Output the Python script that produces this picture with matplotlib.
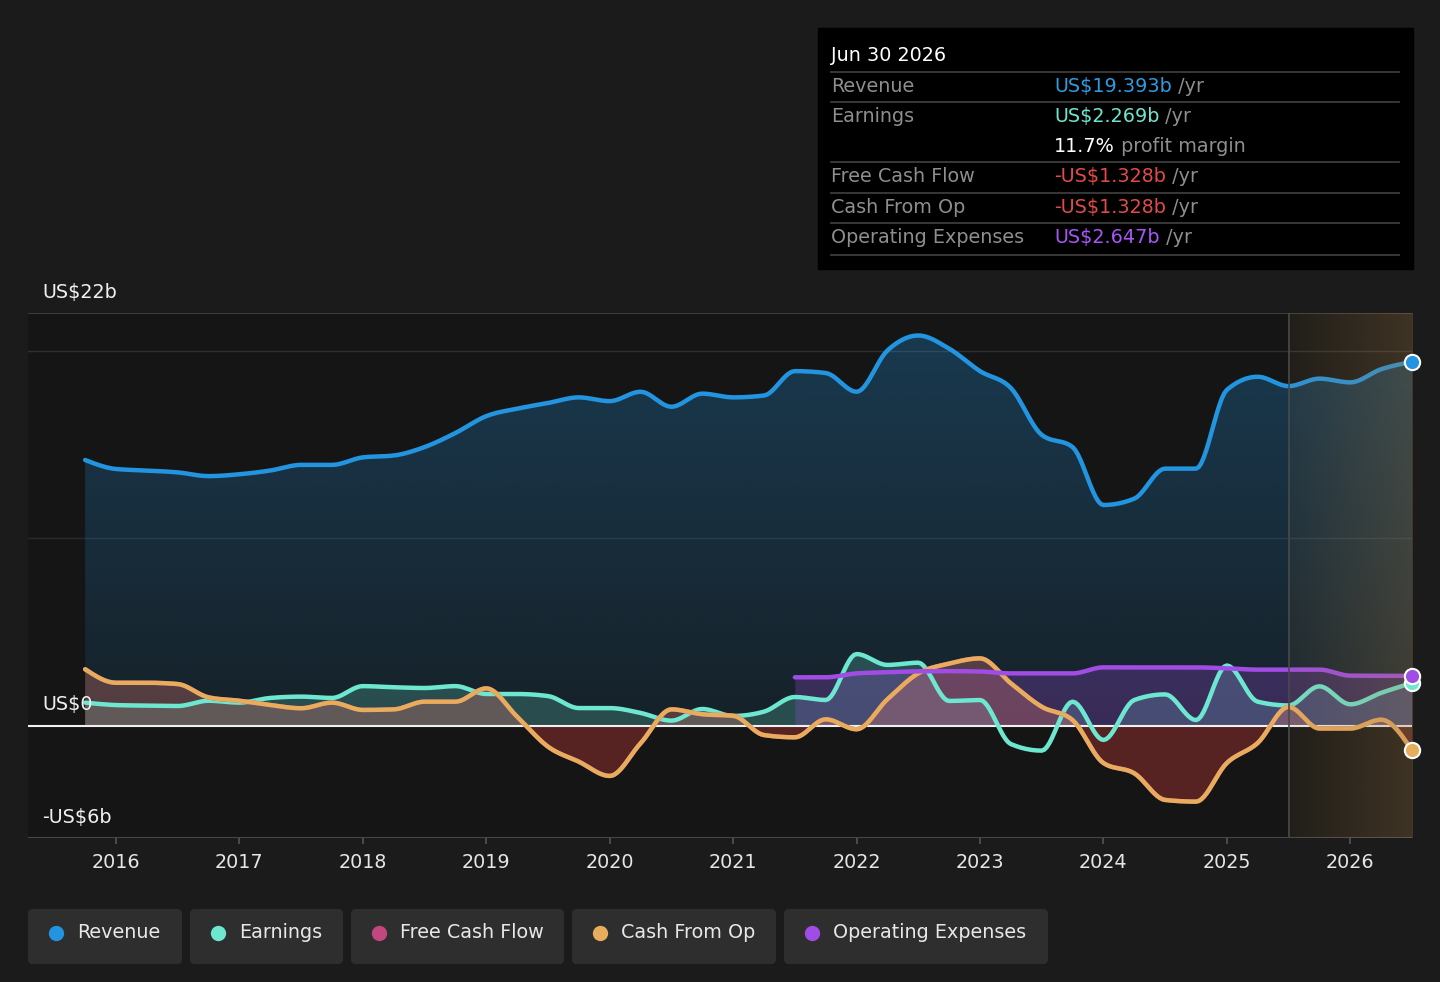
import numpy as np
import matplotlib
matplotlib.use('Agg')
import matplotlib.pyplot as plt
from matplotlib.patches import Rectangle, FancyBboxPatch
from matplotlib.transforms import blended_transform_factory

# quarterly points, decimal years (Sep 2015 .. Jun 2026), values in US$ billions
dates = [2015.75 + 0.25 * i for i in range(44)]

revenue = [14.16, 13.68, 13.6, 13.5, 13.3, 13.4, 13.6, 13.9, 13.9, 14.3, 14.4, 14.85,
           15.6, 16.5, 16.9, 17.2, 17.5, 17.3, 17.8, 17.0, 17.7, 17.5, 17.6, 18.9,
           18.8, 17.8, 20.0, 20.8, 20.1, 18.9, 18.0, 15.5, 14.85, 11.76, 12.1, 13.7,
           13.7, 17.9, 18.6, 18.1, 18.5, 18.3, 19.0, 19.393]

earnings = [1.22, 1.09, 1.06, 1.04, 1.32, 1.22, 1.47, 1.54, 1.47, 2.1, 2.04, 2.0,
            2.1, 1.68, 1.68, 1.57, 0.93, 0.93, 0.67, 0.26, 0.88, 0.51, 0.74, 1.52,
            1.36, 3.81, 3.23, 3.35, 1.31, 1.36, -0.99, -1.34, 1.27, -0.77, 1.36, 1.66,
            0.29, 3.2, 1.27, 1.07, 2.09, 1.13, 1.74, 2.269]

cash_from_op = [3.0, 2.28, 2.28, 2.21, 1.5, 1.32, 1.09, 0.92, 1.22, 0.83, 0.86, 1.27,
                1.27, 1.98, 0.47, -1.13, -1.93, -2.69, -0.95, 0.86, 0.6, 0.52, -0.51, -0.63,
                0.33, -0.2, 1.4, 2.78, 3.3, 3.58, 2.25, 1.0, 0.29, -2.0, -2.55, -3.97,
                -4.06, -2.0, -0.93, 0.99, -0.16, -0.16, 0.31, -1.328]

free_cash_flow = [3.0, 2.28, 2.28, 2.21, 1.5, 1.32, 1.09, 0.92, 1.22, 0.83, 0.86, 1.27,
                  1.27, 1.98, 0.47, -1.13, -1.93, -2.69, -0.95, 0.86, 0.6, 0.52, -0.51, -0.63,
                  0.33, -0.2, 1.4, 2.78, 3.3, 3.58, 2.25, 1.0, 0.29, -2.0, -2.55, -3.97,
                  -4.06, -2.0, -0.93, 0.99, -0.16, -0.16, 0.31, -1.328]

opex_dates = [2021.5 + 0.25 * i for i in range(21)]
opex = [2.57, 2.57, 2.78, 2.84, 2.89, 2.9, 2.88, 2.78, 2.78, 2.78, 3.1, 3.1,
        3.1, 3.1, 3.05, 2.98, 2.98, 2.98, 2.66, 2.65, 2.647]

year_ticks = list(range(2016, 2027))
forecast_start = 2025.5

C_REV = '#2394df'
C_EARN = '#6ee7d0'
C_FCF = '#c0487f'
C_CFO = '#e8ad5c'
C_OPEX = '#a24ce6'
FS = 13.8


def smooth(x, y, n=12):
    # monotone cubic (like d3 curveMonotoneX), only for drawing
    x = np.asarray(x, float)
    y = np.asarray(y, float)
    h = np.diff(x)
    s = np.diff(y) / h
    m = np.zeros_like(y)
    for i in range(1, len(y) - 1):
        p = (s[i - 1] * h[i] + s[i] * h[i - 1]) / (h[i - 1] + h[i])
        m[i] = (np.sign(s[i - 1]) + np.sign(s[i])) * min(abs(s[i - 1]), abs(s[i]), 0.5 * abs(p))
    m[0] = (3 * s[0] - m[1]) / 2
    m[-1] = (3 * s[-1] - m[-2]) / 2
    xs, ys = [], []
    for i in range(len(x) - 1):
        t = np.linspace(0, 1, n, endpoint=False)
        h00 = 2 * t**3 - 3 * t**2 + 1
        h10 = t**3 - 2 * t**2 + t
        h01 = -2 * t**3 + 3 * t**2
        h11 = t**3 - t**2
        xs.append(x[i] + t * h[i])
        ys.append(h00 * y[i] + h10 * h[i] * m[i] + h01 * y[i + 1] + h11 * h[i] * m[i + 1])
    xs.append([x[-1]])
    ys.append([y[-1]])
    return np.concatenate(xs), np.concatenate(ys)


W, H = 1440, 982
fig = plt.figure(figsize=(W / 100, H / 100), dpi=100, facecolor='#1b1b1b')
ax = fig.add_axes([28 / W, 1 - 838 / H, 1384 / W, 525 / H])
ax.set_facecolor('#151515')
for sp in ax.spines.values():
    sp.set_visible(False)

x0, x1 = 2015.287, 2026.5
ax.set_xlim(x0, x1)
ax.set_ylim(-6, 22)

# grid
ax.axhline(22, color='#464646', lw=1.2, zorder=1)
ax.axhline(20, color='#303030', lw=1.0, zorder=1)
ax.axhline(10, color='#2a2a2a', lw=1.0, zorder=1)
ax.axhline(-6, color='#464646', lw=1.5, zorder=1)

# revenue: gradient fill
rx, ry = smooth(dates, revenue)
poly = ax.fill_between(rx, ry, 0, color='none', lw=0)
grad = np.zeros((256, 2, 4))
rgb = matplotlib.colors.to_rgb(C_REV)
grad[:, :, 0], grad[:, :, 1], grad[:, :, 2] = rgb
grad[:, :, 3] = np.linspace(0.30, 0.10, 256)[:, None]
im = ax.imshow(grad, extent=[dates[0], dates[-1], 0, 22], origin='upper', aspect='auto', zorder=2)
im.set_clip_path(poly.get_paths()[0], transform=ax.transData)

# other fills
ex, ey = smooth(dates, earnings)
ax.fill_between(ex, ey, 0, where=ey >= 0, interpolate=True, color=C_EARN, alpha=0.22, lw=0, zorder=2)
ox, oy = smooth(opex_dates, opex)
ax.fill_between(ox, oy, 0, color=C_OPEX, alpha=0.25, lw=0, zorder=2)
fx, fy = smooth(dates, free_cash_flow)
ax.fill_between(fx, fy, 0, where=fy >= 0, interpolate=True, color=C_FCF, alpha=0.22, lw=0, zorder=2)
ax.fill_between(fx, fy, 0, where=fy <= 0, interpolate=True, color='#d23c3c', alpha=0.35, lw=0, zorder=2)
cx, cy = smooth(dates, cash_from_op)
ax.fill_between(cx, cy, 0, where=cy >= 0, interpolate=True, color=C_CFO, alpha=0.15, lw=0, zorder=2)

ax.axhline(0, color='#f0f0f0', lw=1.5, zorder=3)

# lines
lw = 3.2
ax.plot(rx, ry, color=C_REV, lw=lw, zorder=4, solid_capstyle='round')
ax.plot(ex, ey, color=C_EARN, lw=lw, zorder=4, solid_capstyle='round')
ax.plot(fx, fy, color=C_FCF, lw=lw, zorder=4, solid_capstyle='round')
ax.plot(cx, cy, color=C_CFO, lw=lw, zorder=4, solid_capstyle='round')
ax.plot(ox, oy, color=C_OPEX, lw=lw, zorder=4, solid_capstyle='round')

# forecast shading
fc = np.zeros((2, 256, 4))
fc[:, :, 0], fc[:, :, 1], fc[:, :, 2] = matplotlib.colors.to_rgb('#a17c47')
fc[:, :, 3] = np.linspace(0.09, 0.30, 256)[None, :]
ax.imshow(fc, extent=[forecast_start, x1, -6, 22], aspect='auto', zorder=5)
ax.axvline(forecast_start, color='#4a4a4a', lw=1.2, zorder=5)

# end markers
for series, col in [(revenue, C_REV), (earnings, C_EARN), (cash_from_op, C_CFO)]:
    ax.plot(dates[-1], series[-1], 'o', ms=11, mfc=col, mec='white', mew=1.5, zorder=7, clip_on=False)
ax.plot(opex_dates[-1], opex[-1], 'o', ms=11, mfc=C_OPEX, mec='white', mew=1.5, zorder=7, clip_on=False)

ax.set_xlim(x0, x1)
ax.set_ylim(-6, 22)

ax.set_yticks([])
ax.set_xticks(year_ticks)
ax.set_xticklabels([str(y) for y in year_ticks])
ax.tick_params(axis='x', length=4, width=1.2, color='#555555', pad=7,
               labelsize=FS, labelcolor='#e6e6e6')

tr = blended_transform_factory(ax.transAxes, ax.transData)
for val, lab in [(22, 'US$22b'), (0, 'US$0'), (-6, '-US$6b')]:
    ax.annotate(lab, xy=(0, val), xycoords=tr, xytext=(10, 8), textcoords='offset points',
                color='#f0f0f0', fontsize=FS, va='bottom', ha='left', zorder=8,
                annotation_clip=False)

# overlay in pixel coordinates for tooltip and legend
ov = fig.add_axes([0, 0, 1, 1])
ov.set_xlim(0, W)
ov.set_ylim(H, 0)
ov.axis('off')
ov.patch.set_alpha(0)

ov.add_patch(Rectangle((818, 28), 595, 241, color='#000000'))
ov.text(831, 55, 'Jun 30 2026', color='#ffffff', fontsize=FS, va='center')
for yy in [72, 102, 162, 193, 223, 255]:
    ov.plot([831, 1399], [yy, yy], color='#3c3c3c', lw=1.3)

GREY = '#8e8e8e'
renderer = fig.canvas.get_renderer()


def seq_text(x, y, parts):
    for s, c in parts:
        t = ov.text(x, y, s, color=c, fontsize=FS, va='center')
        x += t.get_window_extent(renderer=renderer).width


rows = [
    (86, 'Revenue', [('US$19.393b', '#2e9be0'), (' /yr', GREY)]),
    (116, 'Earnings', [('US$2.269b', '#6ee6cf'), (' /yr', GREY)]),
    (146, '', [('11.7%', '#ffffff'), (' profit margin', GREY)]),
    (176, 'Free Cash Flow', [('-US$1.328b', '#e24a4a'), (' /yr', GREY)]),
    (207, 'Cash From Op', [('-US$1.328b', '#e24a4a'), (' /yr', GREY)]),
    (237, 'Operating Expenses', [('US$2.647b', '#a855f7'), (' /yr', GREY)]),
]
for yy, lab, parts in rows:
    if lab:
        ov.text(831, yy, lab, color=GREY, fontsize=FS, va='center')
    seq_text(1054, yy, parts)

# legend
legend = [('Revenue', C_REV, 28, 182), ('Earnings', C_EARN, 190, 343),
          ('Free Cash Flow', C_FCF, 351, 564), ('Cash From Op', C_CFO, 572, 776),
          ('Operating Expenses', C_OPEX, 784, 1048)]
for name, col, a, b in legend:
    ov.add_patch(FancyBboxPatch((a, 909), b - a, 55, boxstyle='round,pad=0,rounding_size=5',
                                fc='#2e2e2e', ec='none'))
    ov.plot(a + 28, 933, 'o', ms=10, color=col)
    ov.text(a + 49, 933, name, color='#e8e8e8', fontsize=FS, va='center')

fig.savefig('out.png', dpi=100, facecolor=fig.get_facecolor())
